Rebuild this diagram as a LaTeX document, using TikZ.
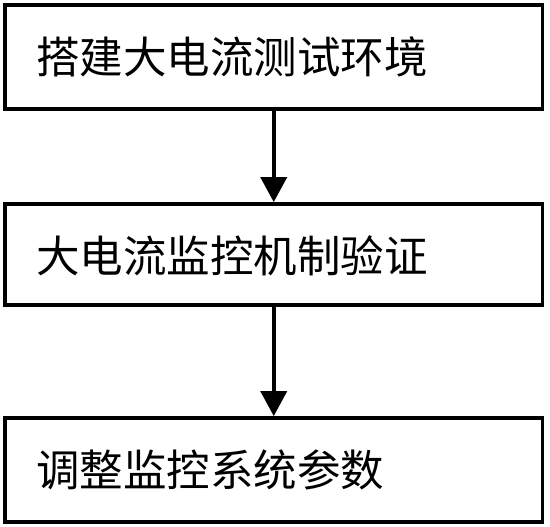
\documentclass[tikz,border=0pt]{standalone}
\usepackage{fontspec}
\newfontfamily\cjk{Noto Sans CJK SC}
\usetikzlibrary{arrows.meta}
\begin{document}
\begin{tikzpicture}[x=1pt,y=-1pt,
  stepbox/.style={draw,line width=3.8pt,minimum width=537.5pt,inner sep=0pt},
  lbl/.style={anchor=west,inner sep=0pt,font=\cjk\fontsize{43.5}{50}\selectfont},
  flow/.style={line width=3.8pt,-{Triangle[length=25pt,width=26pt]}}]
\useasboundingbox (0,0) rectangle (550,527);
\node[stepbox,minimum height=104pt] (b1) at (273.75,57) {};
\node[stepbox,minimum height=101pt] (b2) at (273.75,254.5) {};
\node[stepbox,minimum height=104pt] (b3) at (273.75,470) {};
\node[lbl] (t1) at (36,57) {搭建大电流测试环境};
\node[lbl] (t2) at (36,256) {大电流监控机制验证};
\node[lbl] (t3) at (36,470) {调整监控系统参数};
\draw[flow] (b1.south) -- (b2.north);
\draw[flow] (b2.south) -- (b3.north);
\end{tikzpicture}
\end{document}
